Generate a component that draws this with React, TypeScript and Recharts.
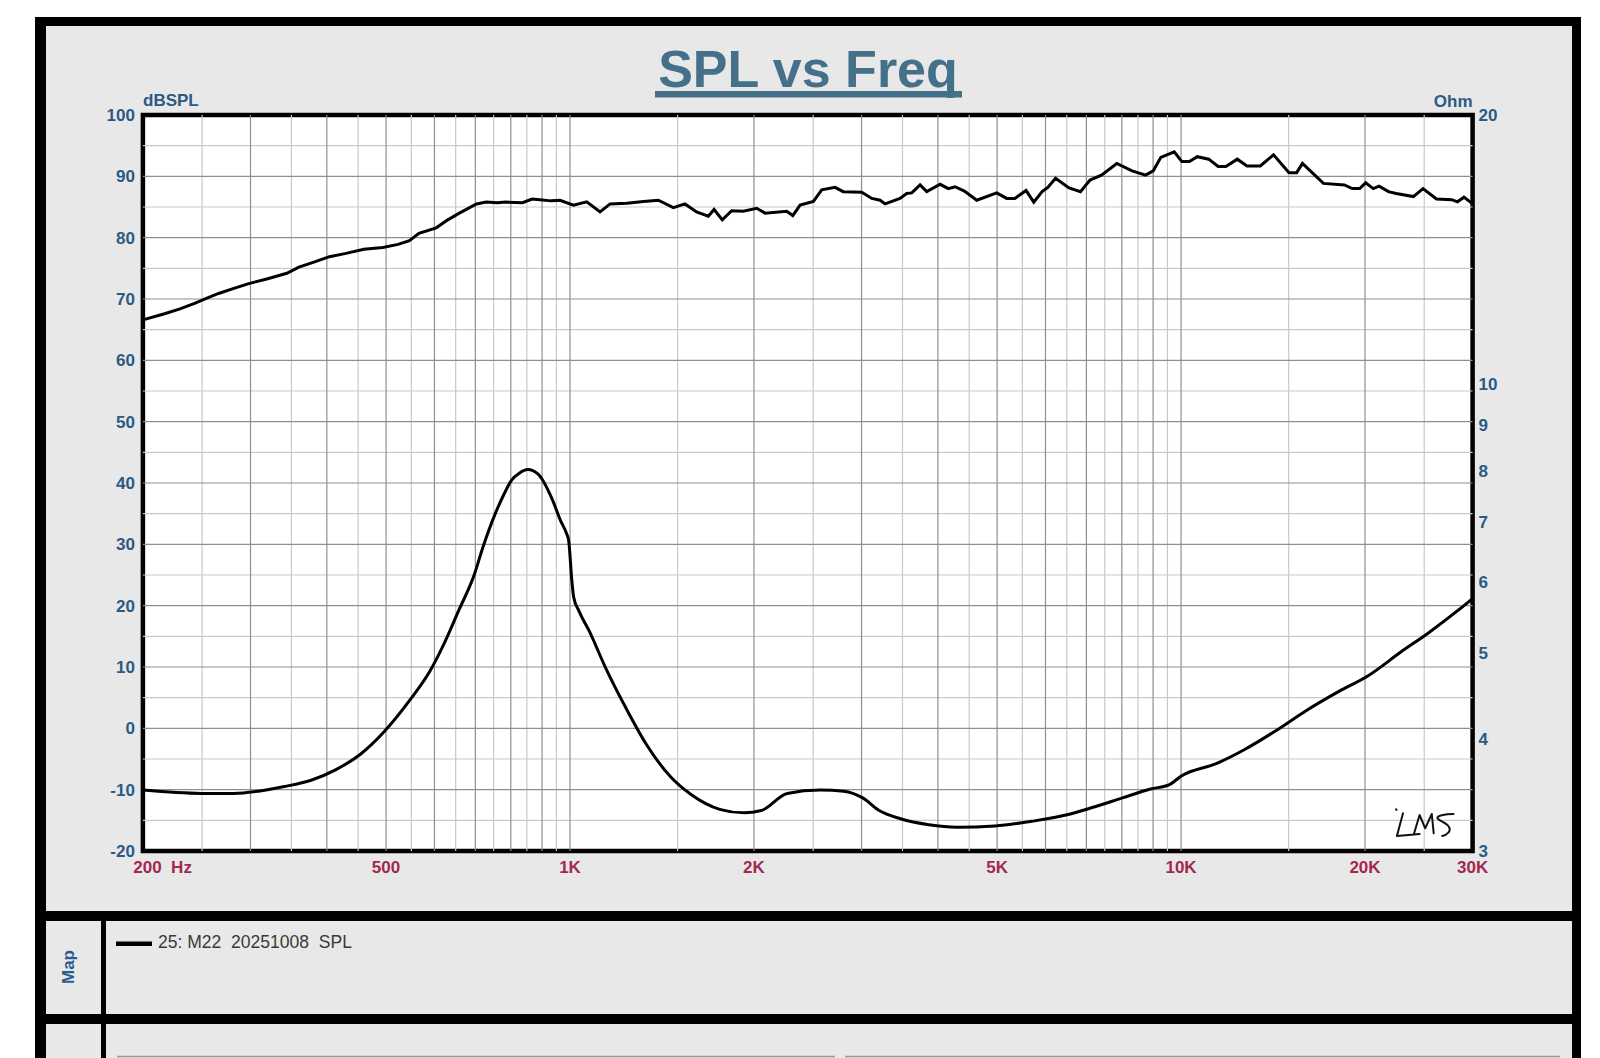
import {
  CartesianGrid,
  Line,
  LineChart,
  ReferenceArea,
  ReferenceLine,
  XAxis,
  YAxis,
} from "recharts";

// SPL curve (Hz, dBSPL)
const splFreq = [
  200, 217, 230, 243, 254, 266, 281, 298, 320, 344, 360, 381, 404, 428, 460, 494, 523, 546, 566, 604,
  631, 659, 703, 729, 761, 784, 836, 867, 892, 931, 963, 1013, 1065, 1120, 1163, 1239, 1319, 1395,
  1476, 1542, 1611, 1684, 1721, 1775, 1839, 1921, 2021, 2085, 2263, 2315, 2380, 2502, 2582, 2715,
  2800, 3002, 3118, 3217, 3278, 3381, 3467, 3557, 3625, 3740, 3836, 4034, 4160, 4266, 4420, 4631,
  4993, 5184, 5347, 5576, 5741, 5924, 6052, 6232, 6556, 6846, 7096, 7409, 7850, 8315, 8748, 9005,
  9266, 9745, 10030, 10320, 10630, 11100, 11500, 11840, 12360, 12820, 13480, 14170, 15020, 15460,
  15800, 17100, 18510, 19060, 19610, 20050, 20630, 21090, 21850, 22490, 24000, 24890, 26180, 27730,
  28340, 29040, 30000,
];
const splDb = [
  66.6, 67.6, 68.4, 69.3, 70.1, 70.9, 71.7, 72.5, 73.3, 74.2, 75.2, 76.0, 76.9, 77.4, 78.1, 78.4, 78.9,
  79.5, 80.7, 81.6, 82.9, 84.0, 85.5, 85.8, 85.7, 85.8, 85.7, 86.3, 86.2, 86.0, 86.1, 85.3, 85.85, 84.2,
  85.5, 85.6, 85.9, 86.1, 84.9, 85.5, 84.2, 83.5, 84.6, 82.9, 84.4, 84.3, 84.8, 84.0, 84.3, 83.6, 85.3,
  85.9, 87.8, 88.2, 87.5, 87.4, 86.4, 86.1, 85.5, 86.0, 86.4, 87.2, 87.3, 88.6, 87.5, 88.7, 88.0, 88.3,
  87.6, 86.1, 87.3, 86.4, 86.4, 87.7, 85.8, 87.5, 88.2, 89.7, 88.1, 87.5, 89.4, 90.2, 92.1, 90.9, 90.2,
  90.9, 93.1, 94.0, 92.4, 92.4, 93.2, 92.8, 91.6, 91.6, 92.8, 91.7, 91.7, 93.5, 90.6, 90.6, 92.1, 88.85,
  88.6, 88.0, 88.0, 88.95, 88.0, 88.4, 87.5, 87.2, 86.7, 88.0, 86.3, 86.2, 85.85, 86.6, 85.5,
];

// impedance curve (Hz, Ohm)
const zFreq = [
  200, 249, 282, 309, 339, 377, 414, 454, 498, 546, 590, 618, 657, 698, 720, 754, 778, 802, 827, 853,
  886, 935, 965, 987, 995, 1007, 1014, 1034, 1075, 1142, 1234, 1333, 1462, 1578, 1758, 1927, 2056,
  2267, 2567, 2806, 3013, 3206, 3475, 3865, 4302, 4959, 5717, 6590, 7204, 8019, 8920, 9573, 10010,
  11440, 12730, 14290, 16040, 18160, 20210, 22890, 25460, 28320, 30000,
];
const zOhm = [
  3.51, 3.48, 3.48, 3.5, 3.54, 3.6, 3.7, 3.85, 4.09, 4.42, 4.77, 5.07, 5.57, 6.13, 6.56, 7.15, 7.5, 7.8,
  7.95, 8.02, 7.93, 7.43, 7.03, 6.8, 6.68, 6.02, 5.77, 5.57, 5.29, 4.82, 4.34, 3.95, 3.63, 3.47, 3.34,
  3.31, 3.33, 3.48, 3.51, 3.5, 3.44, 3.33, 3.26, 3.21, 3.19, 3.2, 3.24, 3.3, 3.36, 3.44, 3.52, 3.56,
  3.64, 3.76, 3.9, 4.09, 4.31, 4.53, 4.71, 5.01, 5.27, 5.57, 5.75,
];

const freqTicks = [200, 500, 1000, 2000, 5000, 10000, 20000, 30000];
const dbTicks = [-20, -10, 0, 10, 20, 30, 40, 50, 60, 70, 80, 90, 100];
const ohmTicks = [3, 4, 5, 6, 7, 8, 9, 10, 20];

const freqGridMajor = [
  300, 400, 500, 600, 700, 800, 900, 1000, 2000, 3000, 4000, 5000, 6000, 7000, 8000, 9000, 10000, 20000,
];
const freqGridMinor = [
  250, 350, 450, 550, 650, 750, 850, 950, 1500, 2500, 3500, 4500, 5500, 6500, 7500, 8500, 9500, 15000,
  25000,
];
const dbGridMajor = [-10, 0, 10, 20, 30, 40, 50, 60, 70, 80, 90];
const dbGridMinor = [-15, -5, 5, 15, 25, 35, 45, 55, 65, 75, 85, 95];

const splData = splFreq.map((f, i) => ({ f, v: splDb[i] }));
const zData = zFreq.map((f, i) => ({ f, v: zOhm[i] }));

const FONT = '"Liberation Sans", Arial, sans-serif';
const BLUE = "#2b5a84";
const CRIMSON = "#a3284f";
const PANEL = "#e8e8e8";

const fmtFreq = (v: number) => (v === 200 ? "200  Hz" : v >= 1000 ? `${v / 1000}K` : String(v));

function FreqTick(props: any) {
  const { x, y, payload } = props;
  const first = payload.value === 200;
  return (
    <text
      x={first ? x - 9.6 : x}
      y={y}
      dy="0.71em"
      textAnchor={first ? "start" : "middle"}
      fill={CRIMSON}
      fontSize={17}
      fontWeight="bold"
      fontFamily={FONT}
      style={{ whiteSpace: "pre" }}
    >
      {fmtFreq(payload.value)}
    </text>
  );
}

const box = (left: number, top: number, width: number, height: number, bg: string) => ({
  position: "absolute" as const,
  left,
  top,
  width,
  height,
  background: bg,
});

export default function App() {
  const yTick = { fill: BLUE, fontSize: 17, fontWeight: "bold", fontFamily: FONT };
  return (
    <div style={{ position: "absolute", left: 0, top: 0, width: 1600, height: 1058, overflow: "hidden", background: "#fff" }}>
      <div style={box(35, 17, 1546, 1041, "#000")} />
      <div style={box(45.5, 25.5, 1526, 885, PANEL)} />
      <div style={box(45.5, 920.5, 55, 93, PANEL)} />
      <div style={box(106, 920.5, 1465.5, 93, PANEL)} />
      <div style={box(45.5, 1023.5, 55, 40, PANEL)} />
      <div style={box(106, 1023.5, 1465.5, 40, PANEL)} />

      <div style={{ position: "absolute", left: 0, top: 0 }}>
        <LineChart width={1600} height={1058} margin={{ top: 115, right: 67.4, bottom: 167, left: 82.9 }}>
          <CartesianGrid fill="#fff" horizontal={false} vertical={false} />
          {freqGridMinor.map((f) => (
            <ReferenceLine key={`fm${f}`} x={f} yAxisId="left" stroke="#c9c9c9" strokeWidth={1.2} />
          ))}
          {dbGridMinor.map((d) => (
            <ReferenceLine key={`dm${d}`} y={d} yAxisId="left" stroke="#c9c9c9" strokeWidth={1.2} />
          ))}
          {freqGridMajor.map((f) => (
            <ReferenceLine key={`fM${f}`} x={f} yAxisId="left" stroke="#8f8f8f" strokeWidth={1.2} />
          ))}
          {dbGridMajor.map((d) => (
            <ReferenceLine key={`dM${d}`} y={d} yAxisId="left" stroke="#8f8f8f" strokeWidth={1.2} />
          ))}
          <XAxis
            type="number"
            dataKey="f"
            scale="log"
            domain={[200, 30000]}
            allowDataOverflow
            ticks={freqTicks}
            interval={0}
            axisLine={false}
            tickLine={false}
            tickSize={0}
            tickMargin={10}
            height={40}
            tick={<FreqTick />}
          />
          <YAxis
            yAxisId="left"
            orientation="left"
            type="number"
            domain={[-20, 100]}
            allowDataOverflow
            ticks={dbTicks}
            interval={0}
            width={60}
            axisLine={false}
            tickLine={false}
            tickSize={0}
            tickMargin={8}
            tick={yTick}
          />
          <YAxis
            yAxisId="right"
            orientation="right"
            type="number"
            scale="log"
            domain={[3, 20]}
            allowDataOverflow
            ticks={ohmTicks}
            interval={0}
            width={60}
            axisLine={false}
            tickLine={false}
            tickSize={0}
            tickMargin={6}
            tick={yTick}
          />
          <Line
            data={zData}
            dataKey="v"
            yAxisId="right"
            type="monotone"
            stroke="#000"
            strokeWidth={3}
            dot={false}
            activeDot={false}
            isAnimationActive={false}
          />
          <Line
            data={splData}
            dataKey="v"
            yAxisId="left"
            type="linear"
            stroke="#000"
            strokeWidth={3}
            dot={false}
            activeDot={false}
            isAnimationActive={false}
          />
          <ReferenceArea
            x1={200}
            x2={30000}
            y1={-20}
            y2={100}
            yAxisId="left"
            fill="none"
            fillOpacity={0}
            stroke="#000"
            strokeWidth={4.5}
            ifOverflow="visible"
          />
        </LineChart>
      </div>

      <svg
        width={1600}
        height={1058}
        style={{ position: "absolute", left: 0, top: 0, pointerEvents: "none" }}
      >
        <text x={808} y={86.7} textAnchor="middle" fontSize={52} fontWeight="bold" fontFamily={FONT} fill="#45708a">
          SPL vs Freq
        </text>
        <rect x={655} y={91} width={307} height={6.5} fill="#45708a" />
        <text x={143} y={106.3} fontSize={17} fontWeight="bold" fontFamily={FONT} fill={BLUE}>
          dBSPL
        </text>
        <text x={1472.6} y={106.7} textAnchor="end" fontSize={17} fontWeight="bold" fontFamily={FONT} fill={BLUE}>
          Ohm
        </text>
        <path
          d="M1396 809.3 l0.6 0.6 M1403 813.3 L1396.9 836 L1419.6 834 M1413.9 834 L1419.6 815 L1425.2 828.3 L1431.8 814 L1433.7 833.3 M1453.5 814 C1445 814 1436 816 1437.5 818.3 C1439 821 1447 823 1449 827 C1451.5 831 1447 835 1442.2 836"
          fill="none"
          stroke="#111"
          strokeWidth={2}
          strokeLinecap="round"
          strokeLinejoin="round"
        />
        <text
          transform="translate(74,967) rotate(-90)"
          textAnchor="middle"
          fontSize={17}
          fontWeight="bold"
          fontFamily={FONT}
          fill="#2a5d8f"
        >
          Map
        </text>
        <rect x={116} y={941.5} width={36} height={4.5} fill="#000" />
        <text
          x={158}
          y={948}
          fontSize={19}
          fontFamily={FONT}
          fill="#3a3a3a"
          textLength={194}
          lengthAdjust="spacingAndGlyphs"
          style={{ whiteSpace: "pre" }}
        >
          25: M22  20251008  SPL
        </text>
        <line x1={117} y1={1056.5} x2={835} y2={1056.5} stroke="#9a9a9a" strokeWidth={1.5} />
        <line x1={845} y1={1056.5} x2={1560} y2={1056.5} stroke="#9a9a9a" strokeWidth={1.5} />
      </svg>
    </div>
  );
}
